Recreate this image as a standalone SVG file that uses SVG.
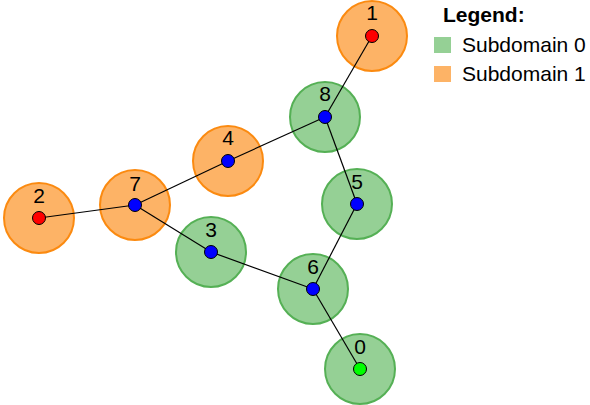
<svg xmlns="http://www.w3.org/2000/svg" width="590" height="405" viewBox="0 0 590 405">
  <style>
    .sub0 { fill: #95d095; stroke: #55b055; stroke-width: 2; }
    .sub1 { fill: #fdb366; stroke: #fb8a10; stroke-width: 2; }
    .dot { stroke: #000; stroke-width: 1; }
    .inner { fill: #0000ff; }
    .boundary { fill: #ff0000; }
    .source { fill: #00ff00; }
    .edge { stroke: #000; stroke-width: 1.2; fill: none; }
    .lbl { font-family: "Liberation Sans", Arial, sans-serif; font-size: 21px; text-anchor: middle; fill: #000; }
    .leg { font-family: "Liberation Sans", Arial, sans-serif; font-size: 21px; fill: #000; }
    .legtitle { font-weight: bold; }
  </style>

  <!-- subdomain discs drawn first so edges sit on top -->
  <g id="disc-1"><circle class="sub1" cx="372" cy="36" r="35"/></g>
  <g id="disc-8"><circle class="sub0" cx="325" cy="117" r="35"/></g>
  <g id="disc-4"><circle class="sub1" cx="228" cy="161" r="35"/></g>
  <g id="disc-5"><circle class="sub0" cx="357" cy="204" r="35"/></g>
  <g id="disc-7"><circle class="sub1" cx="135" cy="205" r="35"/></g>
  <g id="disc-2"><circle class="sub1" cx="39" cy="218" r="35"/></g>
  <g id="disc-3"><circle class="sub0" cx="211" cy="252" r="35"/></g>
  <g id="disc-6"><circle class="sub0" cx="313" cy="289" r="35"/></g>
  <g id="disc-0"><circle class="sub0" cx="360" cy="369" r="35"/></g>

  <!-- graph edges -->
  <g id="edges">
    <line class="edge" x1="372" y1="36" x2="325" y2="117"/>
    <line class="edge" x1="325" y1="117" x2="228" y2="161"/>
    <line class="edge" x1="228" y1="161" x2="135" y2="205"/>
    <line class="edge" x1="135" y1="205" x2="39" y2="218"/>
    <line class="edge" x1="135" y1="205" x2="211" y2="252"/>
    <line class="edge" x1="211" y1="252" x2="313" y2="289"/>
    <line class="edge" x1="313" y1="289" x2="357" y2="204"/>
    <line class="edge" x1="357" y1="204" x2="325" y2="117"/>
    <line class="edge" x1="313" y1="289" x2="360" y2="369"/>
  </g>

  <!-- vertices with labels -->
  <g id="node-1"><circle class="dot boundary" cx="372" cy="36" r="6.5"/><text class="lbl" x="372" y="20">1</text></g>
  <g id="node-8"><circle class="dot inner" cx="325" cy="117" r="6.5"/><text class="lbl" x="325" y="101">8</text></g>
  <g id="node-4"><circle class="dot inner" cx="228" cy="161" r="6.5"/><text class="lbl" x="228" y="145">4</text></g>
  <g id="node-5"><circle class="dot inner" cx="357" cy="204" r="6.5"/><text class="lbl" x="357" y="188.5">5</text></g>
  <g id="node-7"><circle class="dot inner" cx="135" cy="205" r="6.5"/><text class="lbl" x="135" y="190.5">7</text></g>
  <g id="node-2"><circle class="dot boundary" cx="39" cy="218" r="6.5"/><text class="lbl" x="39" y="202.5">2</text></g>
  <g id="node-3"><circle class="dot inner" cx="211" cy="252" r="6.5"/><text class="lbl" x="211" y="236.5">3</text></g>
  <g id="node-6"><circle class="dot inner" cx="313" cy="289" r="6.5"/><text class="lbl" x="313" y="273.5">6</text></g>
  <g id="node-0"><circle class="dot source" cx="360" cy="369" r="6.5"/><text class="lbl" x="360" y="353.5">0</text></g>

  <!-- legend -->
  <g id="legend">
    <text class="leg legtitle" x="443" y="22">Legend:</text>
    <rect x="434" y="37" width="17" height="16" fill="#95d095"/>
    <text class="leg" x="462" y="52">Subdomain 0</text>
    <rect x="434" y="66" width="17" height="16" fill="#fdb366"/>
    <text class="leg" x="462" y="81">Subdomain 1</text>
  </g>
</svg>
